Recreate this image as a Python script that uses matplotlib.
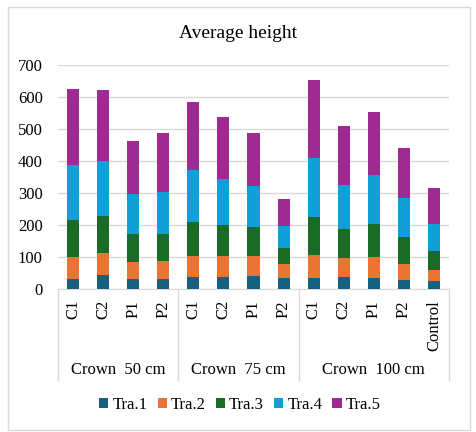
import matplotlib.pyplot as plt
from matplotlib.patches import Rectangle
import matplotlib.transforms as mtransforms

plt.rcParams['font.family'] = ['Liberation Serif', 'DejaVu Serif']

# data
categories = ['C1', 'C2', 'P1', 'P2', 'C1', 'C2', 'P1', 'P2', 'C1', 'C2', 'P1', 'P2', 'Control']
groups = ['Crown  50 cm', 'Crown  75 cm', 'Crown  100 cm']
group_spans = [(0, 3), (4, 7), (8, 12)]

tra1 = [31, 44, 31, 31, 37, 37, 41, 34, 34, 37, 34, 28, 25]
tra2 = [69, 68, 53, 56, 66, 66, 62, 44, 72, 60, 66, 50, 34]
tra3 = [116, 116, 88, 85, 106, 97, 91, 50, 119, 90, 103, 84, 60]
tra4 = [171, 172, 125, 131, 163, 144, 128, 69, 184, 138, 153, 122, 84]
tra5 = [238, 222, 165, 184, 212, 193, 165, 84, 244, 184, 197, 157, 113]

series = [('Tra.1', tra1, '#17607f'),
          ('Tra.2', tra2, '#ea7434'),
          ('Tra.3', tra3, '#1a6b26'),
          ('Tra.4', tra4, '#109fd6'),
          ('Tra.5', tra5, '#9e2a92')]

W, H = 476, 432
fig = plt.figure(figsize=(W / 100, H / 100), dpi=100)
ax = fig.add_axes([58 / W, 1 - 289 / H, 391 / W, 224 / H])

x = list(range(len(categories)))
bottom = [0] * len(categories)
for name, vals, col in series:
    ax.bar(x, vals, width=0.4, bottom=bottom, color=col, label=name, zorder=3)
    bottom = [b + v for b, v in zip(bottom, vals)]

ax.set_xlim(-0.5, len(categories) - 0.5)
ax.set_ylim(0, 700)
ax.set_yticks(range(0, 701, 100))
ax.grid(axis='y', color='#d9d9d9', linewidth=1, zorder=0)
for s in ['top', 'right', 'left']:
    ax.spines[s].set_visible(False)
ax.spines['bottom'].set_color('#d9d9d9')
ax.tick_params(axis='y', length=0, labelsize=12, pad=11)
ax.set_xticks(x)
ax.set_xticklabels(categories, rotation=90, fontsize=12)
ax.tick_params(axis='x', length=0, pad=8)

# group separators and group labels under the axis
trans = mtransforms.blended_transform_factory(ax.transData, ax.transAxes)
low = -(380 - 289) / 224
for sep in [-0.5, 3.5, 7.5, 12.5]:
    ax.plot([sep, sep], [0, low], transform=trans, color='#d9d9d9',
            linewidth=1, clip_on=False)
for g, (a, b) in zip(groups, group_spans):
    ax.text((a + b) / 2, -(370 - 289) / 224, g, transform=trans,
            ha='center', va='center', fontsize=12)

fig.suptitle('Average height', x=238 / W, y=1 - 33 / H, va='center', fontsize=14)

fig.legend(loc='center', bbox_to_anchor=(240 / W, 1 - 405 / H), ncol=5,
           frameon=False, fontsize=12, handlelength=0.55, handleheight=0.55,
           handletextpad=0.25, columnspacing=0.6)

fig.patches.append(Rectangle((8 / W, 1 - 430 / H), 462 / W, 423 / H,
                             transform=fig.transFigure, fill=False,
                             edgecolor='#d9d9d9', linewidth=1))

fig.savefig('out.png', dpi=100)
